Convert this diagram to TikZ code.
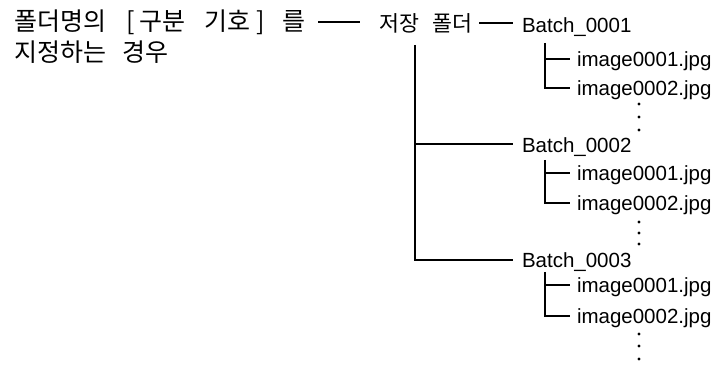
\documentclass[tikz,border=0pt]{standalone}
\usepackage{fontspec}
\setmainfont{Liberation Sans}
\newfontfamily\krfont{Noto Sans CJK KR}
\newcommand\putat[2]{\makebox[0pt][l]{\hspace{#1pt}#2}}
\begin{document}
\begin{tikzpicture}[x=1pt,y=-1pt,
  every node/.style={inner sep=0pt,outer sep=0pt},
  conn/.style={line width=2.1pt},
  krbig/.style={font=\krfont\fontsize{25}{30}\selectfont,anchor=base west},
  krsmall/.style={font=\krfont\fontsize{21.7}{26}\selectfont,anchor=base west},
  lat/.style={font=\fontsize{20.5}{24}\selectfont,anchor=base west},
  dotmark/.style={circle,fill=black,minimum size=3.2pt}]
\useasboundingbox (0,0) rectangle (724,366);
% left label
\node[krbig] (l1) at (14,30.5) {\putat{0}{폴더명의}\putat{112}{[}\putat{125}{구분}\putat{190}{기호}\putat{242}{]}\putat{268}{를}\hspace{292pt}};
\node[krbig] (l2) at (14,61.5) {\putat{0}{지정하는}\putat{108}{경우}\hspace{156pt}};
\node[krsmall] (root) at (379,32) {\putat{0}{저장}\putat{53}{폴더}\hspace{91pt}};
% batches
\node[lat] (b1) at (522,33) {Batch\_0001};
\node[lat] (b2) at (522,153) {Batch\_0002};
\node[lat] (b3) at (522,268) {Batch\_0003};
% images
\node[lat] (i11) at (577,66.5) {image0001.jpg};
\node[lat] (i12) at (577,95.5) {image0002.jpg};
\node[lat] (i21) at (577,180.5) {image0001.jpg};
\node[lat] (i22) at (577,210.5) {image0002.jpg};
\node[lat] (i31) at (577,292.5) {image0001.jpg};
\node[lat] (i32) at (577,323.5) {image0002.jpg};
% coordinates
\coordinate (la) at (318,21.7);
\coordinate (lb) at (360,21.7);
\coordinate (ra) at (479,23);
\coordinate (rb) at (513,23);
\coordinate (mt) at (415,45);
\coordinate (m2) at (415,144);
\coordinate (m2e) at (513,144);
\coordinate (m3) at (415,260);
\coordinate (m3e) at (513,260);
\coordinate (s1t) at (545,43);
\coordinate (s1a) at (545,59);
\coordinate (s1ae) at (570,59);
\coordinate (s1b) at (545,88);
\coordinate (s1be) at (570,88);
\coordinate (s2t) at (545,160);
\coordinate (s2a) at (545,173);
\coordinate (s2ae) at (570,173);
\coordinate (s2b) at (545,203);
\coordinate (s2be) at (570,203);
\coordinate (s3t) at (545,272);
\coordinate (s3a) at (545,285);
\coordinate (s3ae) at (570,285);
\coordinate (s3b) at (545,316);
\coordinate (s3be) at (570,316);
% connectors
\draw[conn] (la) -- (lb);
\draw[conn] (ra) -- (rb);
\draw[conn] (mt) -- (m3) -- (m3e);
\draw[conn] (m2) -- (m2e);
\draw[conn] (s1t) -- (s1b) -- (s1be);
\draw[conn] (s1a) -- (s1ae);
\draw[conn] (s2t) -- (s2b) -- (s2be);
\draw[conn] (s2a) -- (s2ae);
\draw[conn] (s3t) -- (s3b) -- (s3be);
\draw[conn] (s3a) -- (s3ae);
% dots
\foreach \y in {104,117,130,222,233,244,334,346,359}
  \node[dotmark] at (639,\y) {};
\end{tikzpicture}
\end{document}
